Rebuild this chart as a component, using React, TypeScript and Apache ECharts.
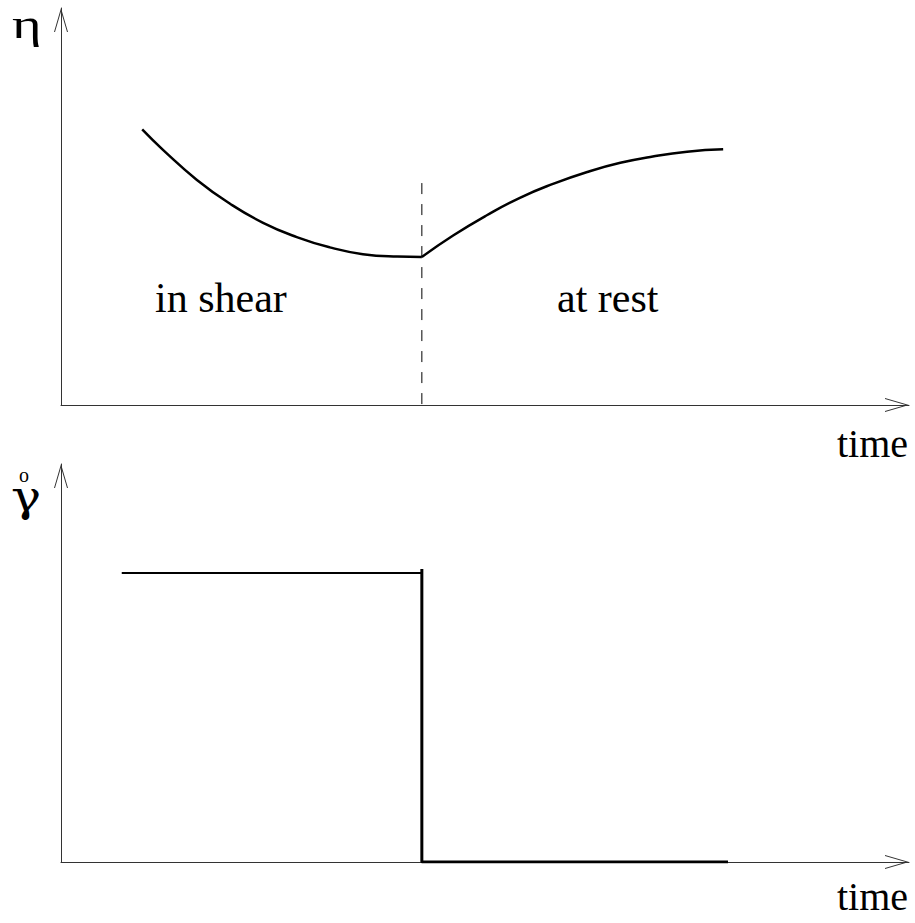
import React, { useEffect, useRef } from "react";
import * as echarts from "echarts";

// time (arbitrary units) and viscosity eta
const shearTime = [1.35, 1.7, 2.26, 2.81, 3.36, 3.92, 4.47, 5.02, 5.59, 6.0];
const shearEta = [6.94, 6.42, 5.67, 5.07, 4.59, 4.23, 3.97, 3.8, 3.74, 3.73];
const restTime = [6.0, 6.52, 7.08, 7.63, 8.18, 8.75, 9.3, 9.84, 10.41, 11.01];
const restEta = [3.73, 4.27, 4.78, 5.22, 5.57, 5.87, 6.1, 6.26, 6.38, 6.44];
const switchTime = 6.0;
const dashTop = 5.59;
// shear rate step
const rateTime = [1.01, 6.0];
const rateValue = [7.26, 7.26];
const dropTime = [6.0, 6.0, 11.09];
const dropValue = [7.36, 0, 0];

const labels = { eta: "η", gamma: "γ", ring: "o", time: "time", shear: "in shear", rest: "at rest" };

const zip = (a: number[], b: number[]) => a.map((v, i) => [v, b[i]]);

const ARROW = "path://M7,0 L14,24 L13,24 L7,3.4 L1,24 L0,24 Z";

export default function App() {
  const ref = useRef<HTMLDivElement>(null);
  useEffect(() => {
    if (!ref.current) return;
    const chart = echarts.init(ref.current, null, { renderer: "svg" });
    const axisLine = {
      show: true,
      lineStyle: { color: "#333", width: 1 },
      symbol: ["none", ARROW],
      symbolSize: [14, 24],
      symbolOffset: [0, -12],
    };
    const baseAxis = {
      type: "value" as const,
      axisLine,
      axisTick: { show: false },
      axisLabel: { show: false },
      splitLine: { show: false },
    };
    const font = "'Liberation Serif', 'Times New Roman', serif";
    const greek = "'DejaVu Serif', 'Liberation Serif', serif";
    const txt = (text: string, x: number, y: number, size: number, align = "left", scaleX = 1, family = font) => ({
      type: "text",
      x,
      y,
      scaleX,
      style: { text, fill: "#000", font: `${size}px ${family}`, textAlign: align, textVerticalAlign: "top" },
    });
    chart.setOption({
      animation: false,
      backgroundColor: "#fff",
      grid: [
        { left: 61, top: 8, width: 848, height: 397 },
        { left: 61, top: 464, width: 848, height: 398 },
      ],
      xAxis: [
        { ...baseAxis, gridIndex: 0, min: 0, max: 14.1 },
        { ...baseAxis, gridIndex: 1, min: 0, max: 14.1 },
      ],
      yAxis: [
        { ...baseAxis, gridIndex: 0, min: 0, max: 10 },
        { ...baseAxis, gridIndex: 1, min: 0, max: 10 },
      ],
      series: [
        {
          type: "line", xAxisIndex: 0, yAxisIndex: 0, data: zip(shearTime, shearEta), smooth: 0.5,
          showSymbol: false, lineStyle: { color: "#000", width: 2.5 },
        },
        {
          type: "line", xAxisIndex: 0, yAxisIndex: 0, data: zip(restTime, restEta), smooth: 0.5,
          showSymbol: false, lineStyle: { color: "#000", width: 2.5 },
        },
        {
          type: "line", xAxisIndex: 0, yAxisIndex: 0, data: [[switchTime, dashTop], [switchTime, 0]],
          showSymbol: false, lineStyle: { color: "#000", width: 1, type: [11, 10] },
        },
        {
          type: "line", xAxisIndex: 1, yAxisIndex: 1, data: zip(rateTime, rateValue),
          showSymbol: false, lineStyle: { color: "#000", width: 2 },
        },
        {
          type: "line", xAxisIndex: 1, yAxisIndex: 1, data: zip(dropTime, dropValue),
          showSymbol: false, lineStyle: { color: "#000", width: 3 },
        },
      ],
      graphic: [
        txt(labels.eta, 12, 3, 42, "left", 1.35),
        txt(labels.gamma, 11, 476, 42, "left", 1.2, greek),
        txt(labels.ring, 19, 465, 20),
        txt(labels.time, 908, 423, 40, "right"),
        txt(labels.time, 908, 876, 40, "right"),
        txt(labels.shear, 155, 277, 42),
        txt(labels.rest, 557, 277, 42),
      ],
    });
    return () => chart.dispose();
  }, []);
  return <div ref={ref} style={{ position: "fixed", left: 0, top: 0, width: 915, height: 923 }} />;
}
